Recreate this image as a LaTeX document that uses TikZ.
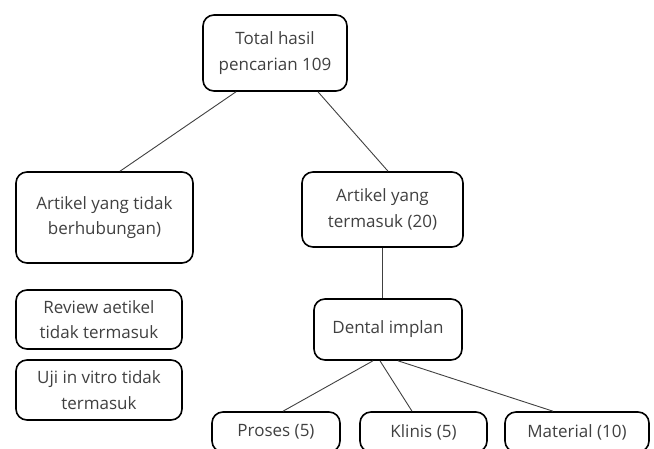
\documentclass[tikz,border=0pt]{standalone}
\usepackage{fontspec}
\setmainfont{Open Sans}
\begin{document}
\begin{tikzpicture}[x=1pt,y=-1pt,
  box/.style={draw=black,line width=1.6pt,rounded corners=11pt,align=center,inner sep=0pt,
    text=black!75,font=\fontsize{17}{25.5}\selectfont},
  link/.style={draw=black!75,line width=0.9pt}]
\useasboundingbox (0,0) rectangle (654,448);
\clip (0,0) rectangle (654,448);
\node[box,minimum width=144pt,minimum height=76pt] (top) at (275,53) {Total hasil\\pencarian 109};
\node[box,minimum width=177pt,minimum height=91pt] (lft) at (104.5,217.5) {Artikel yang tidak\\berhubungan)};
\node[box,minimum width=161pt,minimum height=75pt] (rgt) at (382.5,209.5) {Artikel yang\\termasuk (20)};
\node[box,minimum width=166pt,minimum height=59pt] (rev) at (99,319.5) {Review aetikel\\tidak termasuk};
\node[box,minimum width=166pt,minimum height=60pt] (uji) at (99,390) {Uji in vitro tidak\\termasuk};
\node[box,minimum width=148pt,minimum height=61pt] (den) at (388,329.5) {\raisebox{3pt}{Dental implan}};
\node[box,minimum width=128pt,minimum height=40pt] (pro) at (276,432) {Proses (5)};
\node[box,minimum width=127pt,minimum height=40pt] (kli) at (423.5,432) {Klinis (5)};
\node[box,minimum width=144pt,minimum height=40pt] (mat) at (577,432) {Material (10)};
\draw[link] ([xshift=-39pt]top.south) -- ([xshift=15.5pt]lft.north);
\draw[link] ([xshift=43pt]top.south) -- ([xshift=5.5pt]rgt.north);
\draw[link] ([xshift=-0.5pt]rgt.south) -- ([xshift=-6pt]den.north);
\draw[link] ([xshift=-15pt]den.south) -- ([xshift=7pt]pro.north);
\draw[link] ([xshift=-8pt]den.south) -- ([xshift=-11.5pt]kli.north);
\draw[link] ([xshift=10pt]den.south) -- ([xshift=-24pt]mat.north);
\end{tikzpicture}
\end{document}
